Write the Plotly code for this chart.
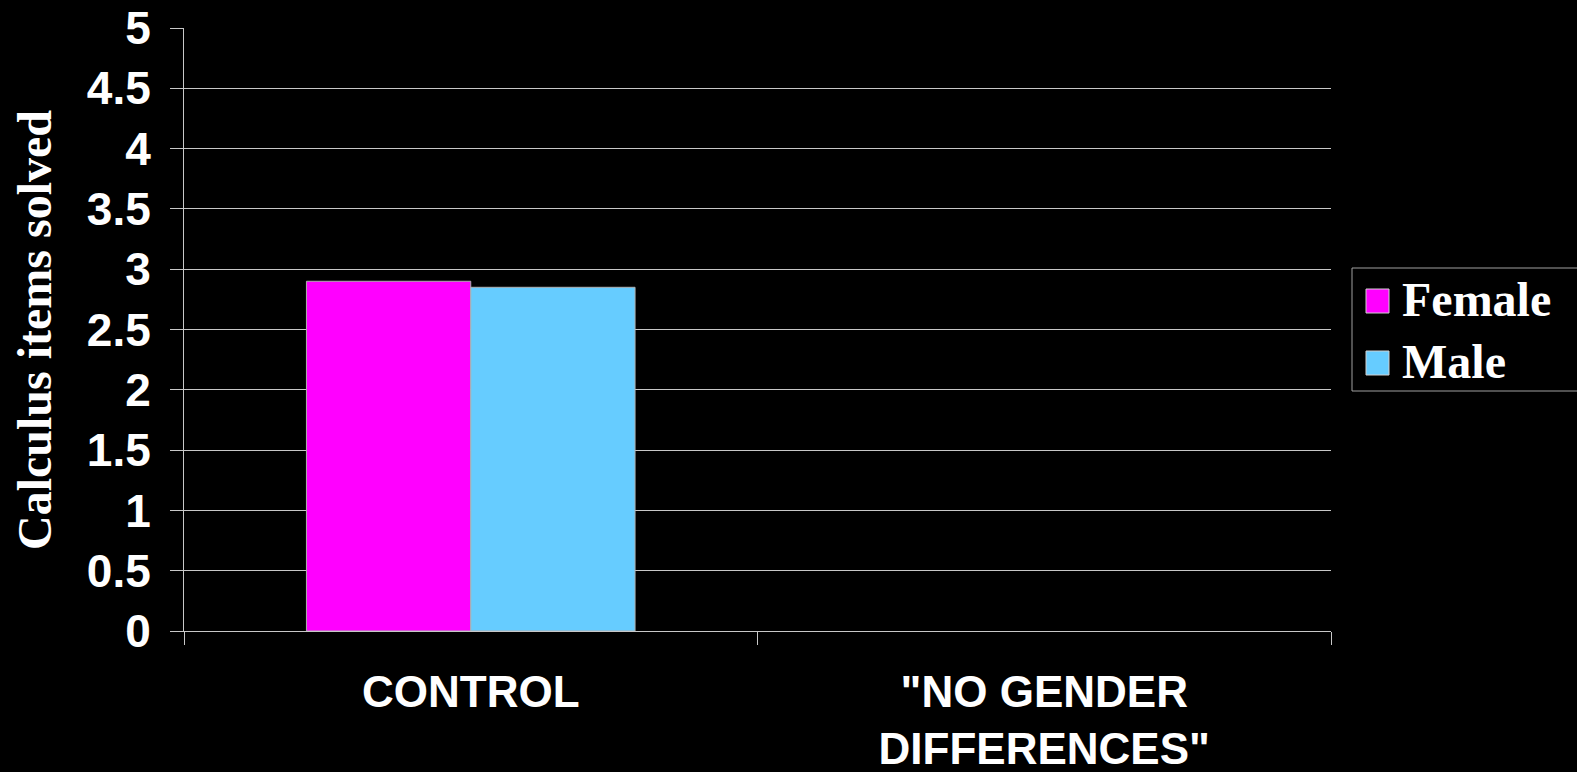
import plotly.graph_objects as go

# Data
categories = ["CONTROL", '"NO GENDER<br>DIFFERENCES"']
female = [2.9, None]
male = [2.85, None]
series_names = ["Female", "Male"]
series_colors = ["#FF00FF", "#66CCFF"]
y_title = "Calculus items solved"

W, H = 1577, 772
L, R, T, B = 184, 1331, 28, 631


def px_x(x):
    return (x - L) / (R - L)


def px_y(y):
    return (B - y) / (B - T)


sans = "Liberation Sans, Arial, sans-serif"
serif = "Liberation Serif, Times New Roman, serif"
grid = "#c8c8c8"

fig = go.Figure()
for name, vals, col in zip(series_names, [female, male], series_colors):
    fig.add_trace(go.Bar(
        x=categories, y=vals, name=name,
        marker=dict(color=col, line=dict(color="#b0b0b0", width=1)),
        showlegend=False,
    ))

fig.update_layout(
    width=W, height=H,
    margin=dict(l=L, r=W - R, t=T, b=H - B, pad=0, autoexpand=False),
    paper_bgcolor="black", plot_bgcolor="black",
    barmode="group", bargap=0.427, bargroupgap=0,
    xaxis=dict(
        automargin=False,
        tickson="boundaries", ticks="outside", ticklen=13, tickcolor=grid,
        showline=True, linecolor=grid, linewidth=1, showgrid=False,
        tickfont=dict(family=sans, size=44, color="white", weight="bold"),
        ticklabelstandoff=22,
    ),
    yaxis=dict(
        automargin=False,
        range=[0, 5], dtick=0.5, tick0=0,
        ticks="outside", ticklen=13, tickcolor=grid,
        showline=True, linecolor=grid, linewidth=1,
        showgrid=True, gridcolor=grid, gridwidth=1, zeroline=False,
        tickfont=dict(family=sans, size=46, color="white", weight="bold"),
        ticklabelstandoff=10,
    ),
)

# Rotated axis title
fig.add_annotation(
    text=y_title, textangle=-90, showarrow=False,
    xref="paper", yref="paper", x=px_x(35), y=px_y(330),
    xanchor="center", yanchor="middle",
    font=dict(family=serif, size=48, color="white", weight="bold"),
)

# Legend box with swatches and labels
fig.add_shape(type="rect", xref="paper", yref="paper",
              x0=px_x(1352), x1=px_x(1590), y0=px_y(268), y1=px_y(391),
              line=dict(color="#a0a0a0", width=1), fillcolor="black")
swatch_tops = [289, 351]
for name, col, top in zip(series_names, series_colors, swatch_tops):
    fig.add_shape(type="rect", xref="paper", yref="paper",
                  x0=px_x(1366), x1=px_x(1389), y0=px_y(top), y1=px_y(top + 24),
                  line=dict(color="#d0d0d0", width=1), fillcolor=col)
    fig.add_annotation(
        text=name, showarrow=False, xref="paper", yref="paper",
        x=px_x(1400), y=px_y(top + 11), xanchor="left", yanchor="middle",
        font=dict(family=serif, size=48, color="white", weight="bold"),
    )

fig.write_html("out.html")
